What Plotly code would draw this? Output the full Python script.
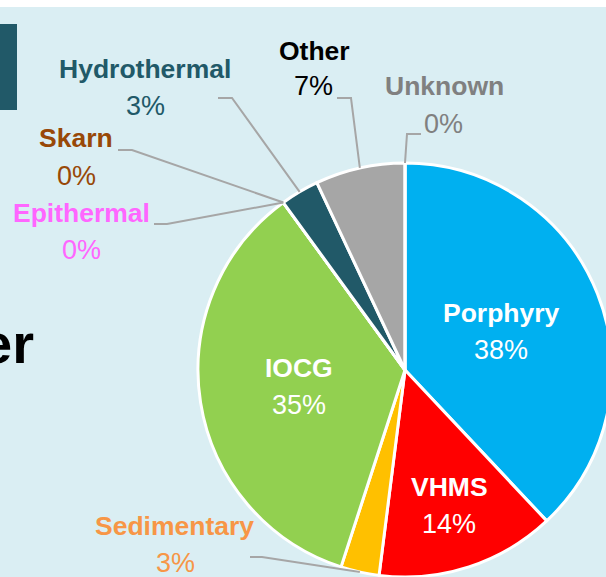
import math
import plotly.graph_objects as go

# Data
labels = ["Porphyry", "VHMS", "Sedimentary", "IOCG", "Epithermal", "Skarn", "Hydrothermal", "Other", "Unknown"]
values = [38, 14, 3, 35, 0, 0, 3, 7, 0]
slice_colors = ["#00B0F0", "#FF0000", "#FFC000", "#92D050", "#FF66FF", "#984807", "#215968", "#A6A6A6", "#7F7F7F"]
text_colors = ["white", "white", "#F79646", "white", "#FF66FF", "#984807", "#215968", "black", "#808080"]

# figure is a bit bigger than the window so the pie gets cut at the right/bottom like the original
W, H = 620, 590
CX, CY, R = 405, 370, 207
FONT = "Liberation Sans, Arial, sans-serif"
BG = "#DAEEF3"


def px(x, y):
    # pixel -> paper coords (margins are 0)
    return x / W, 1 - y / H


# angles of slice midpoints (clockwise from 12 o'clock)
total = sum(values)
mids = []
cum = 0
for v in values:
    mids.append((cum + v / 2) / total * 2 * math.pi)
    cum += v


def on_pie(a, f=1.0):
    return CX + f * R * math.sin(a), CY - f * R * math.cos(a)


fig = go.Figure()
fig.add_trace(go.Pie(
    labels=labels,
    values=values,
    sort=False,
    direction="clockwise",
    rotation=0,
    marker=dict(colors=slice_colors, line=dict(color="white", width=3)),
    textinfo="none",
    hoverinfo="label+percent",
    domain=dict(x=[(CX - R) / W, (CX + R) / W], y=[1 - (CY + R) / H, 1 - (CY - R) / H]),
))

annotations = []
shapes = []

# white strip on top, dark block on the left
shapes.append(dict(type="rect", xref="paper", yref="paper", x0=0, x1=1, y0=1 - 7 / H, y1=1,
                   fillcolor="white", line_width=0, layer="below"))
x0, y0 = px(0, 110)
x1, y1 = px(17, 24)
shapes.append(dict(type="rect", xref="paper", yref="paper", x0=x0, x1=x1, y0=y0, y1=y1,
                   fillcolor="#215968", line_width=0, layer="below"))

# title fragment cut off at the left edge
ex, ey = px(36, 343)
annotations.append(dict(x=ex, y=ey, xref="paper", yref="paper", xanchor="right", yanchor="middle",
                        text="<b>er</b>", showarrow=False, font=dict(family=FONT, size=56, color="black")))

# outside labels: name centre, pct centre, elbow start, elbow end (pixels)
outside = {
    "Hydrothermal": ((145, 69), (145, 106), (218, 98), (232, 98)),
    "Other": ((314, 51), (313, 86), (337, 98), (351, 98)),
    "Unknown": ((444, 86), (443, 124), (421, 134), (407, 134)),
    "Skarn": ((76, 138), (76, 176), (118, 150), (132, 150)),
    "Epithermal": ((81, 213), (81, 250), (154, 224), (167, 224)),
    "Sedimentary": ((174, 526), (175, 563), (250, 557), (262, 557)),
}
inside = {"Porphyry": 0.5, "IOCG": 0.52, "VHMS": 0.69}

for i, lab in enumerate(labels):
    pct = f"{round(values[i] / total * 100)}%"
    col = text_colors[i]
    if lab in outside:
        (nx, ny), (qx, qy), (sx, sy), (bx, by) = outside[lab]
        tx, ty = on_pie(mids[i])
        p = [px(sx, sy), px(bx, by), px(tx, ty)]
        path = "M {} {} L {} {} L {} {}".format(p[0][0], p[0][1], p[1][0], p[1][1], p[2][0], p[2][1])
        shapes.append(dict(type="path", xref="paper", yref="paper", path=path,
                           line=dict(color="#A6A6A6", width=2)))
    else:
        cx, cy = on_pie(mids[i], inside[lab])
        nx, ny = cx, cy - 19
        qx, qy = cx, cy + 18
    ax, ay = px(nx, ny)
    annotations.append(dict(x=ax, y=ay, xref="paper", yref="paper", xanchor="center", yanchor="middle",
                            text=f"<b>{lab}</b>", showarrow=False, font=dict(family=FONT, size=26.5, color=col)))
    ax, ay = px(qx, qy)
    annotations.append(dict(x=ax, y=ay, xref="paper", yref="paper", xanchor="center", yanchor="middle",
                            text=pct, showarrow=False, font=dict(family=FONT, size=27, color=col)))

fig.update_layout(
    width=W,
    height=H,
    margin=dict(l=0, r=0, t=0, b=0),
    paper_bgcolor=BG,
    plot_bgcolor=BG,
    showlegend=False,
    shapes=shapes,
    annotations=annotations,
)

fig.write_html("out.html", config={"displayModeBar": False},
               post_script="document.body.style.margin='0';document.body.style.overflow='hidden';")
